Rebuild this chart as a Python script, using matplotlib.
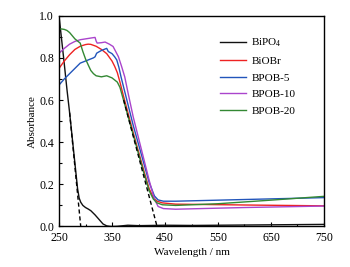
import matplotlib
matplotlib.use("Agg")
import matplotlib.pyplot as plt
from matplotlib.ticker import MultipleLocator, FixedLocator, FormatStrFormatter

plt.rcParams['font.family'] = ['Liberation Serif', 'DejaVu Serif']
plt.rcParams['mathtext.fontset'] = 'custom'
plt.rcParams['mathtext.rm'] = 'Liberation Serif'
plt.rcParams['mathtext.it'] = 'Liberation Serif:italic'

# ---- data ----
bipo4_x = [250, 255, 260, 265, 270, 275, 280, 285, 288, 291, 295, 300, 305, 310, 318, 325, 333, 340, 345, 350,
           360, 380, 400, 450, 500, 550, 600, 650, 700, 750]
bipo4_y = [1.0, 0.885, 0.77, 0.65, 0.54, 0.42, 0.30, 0.18, 0.135, 0.115, 0.10, 0.09, 0.083, 0.075, 0.055, 0.035,
           0.012, 0.003, 0.001, 0.0, 0.001, 0.006, 0.004, 0.006, 0.005, 0.006, 0.007, 0.008, 0.009, 0.01]

biobr_x = [250, 260, 270, 280, 290, 300, 305, 310, 320, 330, 340, 350, 355, 360, 365, 371, 380, 390, 400, 410,
           420, 428, 435, 445, 470, 600, 750]
biobr_y = [0.75, 0.785, 0.815, 0.84, 0.855, 0.863, 0.865, 0.864, 0.855, 0.84, 0.82, 0.785, 0.76, 0.73, 0.685,
           0.625, 0.54, 0.445, 0.355, 0.265, 0.18, 0.138, 0.12, 0.112, 0.106, 0.102, 0.098]

bpob5_x = [250, 260, 270, 280, 290, 300, 310, 315, 318, 321, 325, 330, 335, 340, 343, 350, 355, 359, 363, 367,
           372, 377, 385, 390, 400, 410, 420, 430, 437, 447, 470, 600, 750]
bpob5_y = [0.671, 0.70, 0.725, 0.75, 0.775, 0.785, 0.795, 0.80, 0.805, 0.822, 0.828, 0.835, 0.84, 0.845, 0.83,
           0.82, 0.805, 0.79, 0.755, 0.71, 0.66, 0.61, 0.53, 0.48, 0.39, 0.30, 0.21, 0.145, 0.126, 0.12, 0.12,
           0.128, 0.137]

bpob10_x = [250, 260, 270, 280, 290, 300, 310, 318, 320, 322, 330, 337, 345, 352, 357, 362, 368, 374, 381, 390,
            400, 410, 420, 430, 437, 447, 470, 600, 750]
bpob10_y = [0.822, 0.845, 0.865, 0.878, 0.886, 0.89, 0.894, 0.897, 0.88, 0.87, 0.872, 0.875, 0.865, 0.854, 0.83,
            0.806, 0.76, 0.71, 0.625, 0.52, 0.42, 0.32, 0.22, 0.13, 0.095, 0.085, 0.082, 0.09, 0.097]

bpob20_x = [250, 255, 260, 265, 270, 275, 280, 285, 290, 295, 300, 305, 310, 315, 320, 330, 340, 350, 355, 360,
            365, 370, 380, 390, 400, 410, 420, 428, 435, 445, 470, 550, 650, 750]
bpob20_y = [0.937, 0.937, 0.935, 0.93, 0.92, 0.905, 0.89, 0.88, 0.87, 0.83, 0.795, 0.767, 0.74, 0.725, 0.715,
            0.71, 0.715, 0.705, 0.695, 0.685, 0.66, 0.615, 0.525, 0.435, 0.345, 0.255, 0.17, 0.13, 0.112, 0.103,
            0.1, 0.108, 0.125, 0.143]

tangent1_x = [270, 291]
tangent1_y = [0.54, 0.0]
tangent2_x = [372, 435]
tangent2_y = [0.60, 0.0]

x_ticks = [250, 350, 450, 550, 650, 750]
x_minor = [300, 400, 500, 600, 700]

labels = ['BiPO$_4$', 'BiOBr', 'BPOB-5', 'BPOB-10', 'BPOB-20']
colors = ['#111111', '#ee2222', '#2255bb', '#aa44cc', '#338833']

# ---- plot ----
fig = plt.figure(figsize=(3.5, 2.67), dpi=100)
ax = fig.add_axes([0.1686, 0.1517, 0.7571, 0.7895])

series = [(bipo4_x, bipo4_y), (biobr_x, biobr_y), (bpob5_x, bpob5_y), (bpob10_x, bpob10_y), (bpob20_x, bpob20_y)]
for (x, y), lab, c in zip(series, labels, colors):
    ax.plot(x, y, color=c, lw=1.0, label=lab)

ax.plot(tangent1_x, tangent1_y, color='black', lw=1.0, ls=(0, (3, 2)))
ax.plot(tangent2_x, tangent2_y, color='black', lw=1.0, ls=(0, (3, 2)))

ax.set_xlim(250, 750)
ax.set_ylim(0.0, 1.0)
ax.xaxis.set_major_locator(FixedLocator(x_ticks))
ax.xaxis.set_minor_locator(FixedLocator(x_minor))
ax.yaxis.set_major_locator(MultipleLocator(0.2))
ax.yaxis.set_minor_locator(MultipleLocator(0.1))
ax.yaxis.set_major_formatter(FormatStrFormatter('%.1f'))
ax.tick_params(which='both', direction='in', top=False, right=False, labelsize=8.5)
ax.tick_params(axis='y', which='major', pad=3.5)
ax.tick_params(axis='x', which='major', pad=3.8)
ax.tick_params(which='major', length=3, width=0.8)
ax.tick_params(which='minor', length=1.8, width=0.8)
for s in ax.spines.values():
    s.set_linewidth(1.0)

ax.set_xlabel('Wavelength / nm', fontsize=8, labelpad=3)
ax.set_ylabel('Absorbance', fontsize=8, labelpad=2)

ax.legend(loc='upper left', bbox_to_anchor=(0.568, 0.947), frameon=False, fontsize=8,
          handlelength=2.35, labelspacing=0.62, handletextpad=0.5)

fig.savefig('out.png', dpi=100)
